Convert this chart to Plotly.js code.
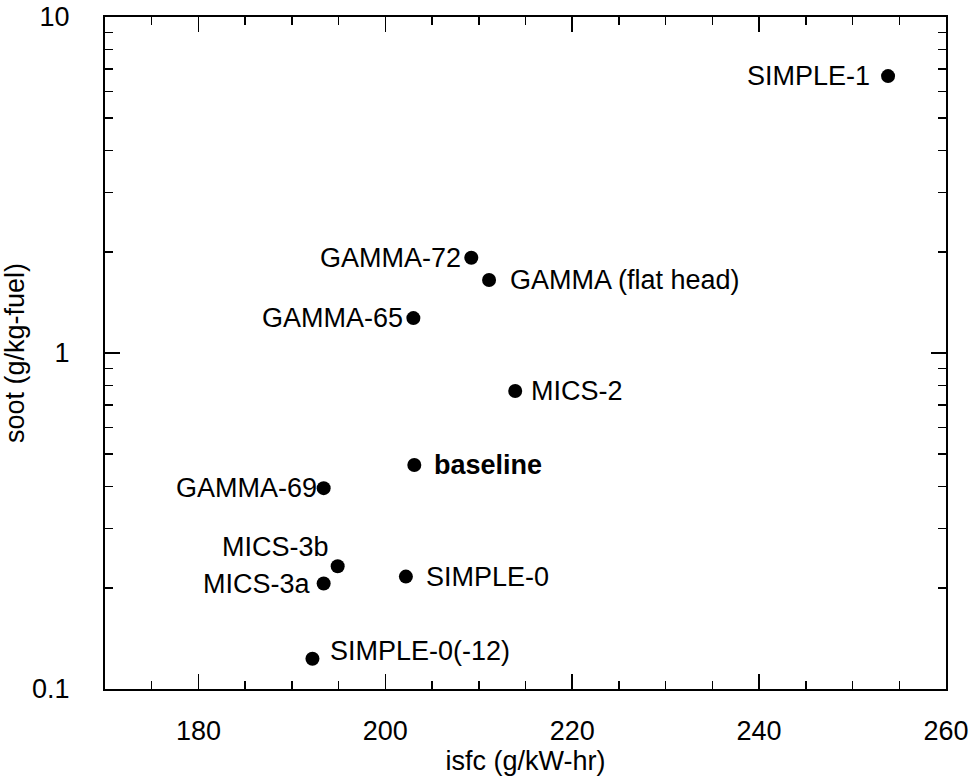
<!DOCTYPE html>
<html>
<head>
<meta charset="utf-8">
<script src="https://cdn.plot.ly/plotly-3.0.1.min.js"></script>
<style>html,body{margin:0;padding:0;background:#fff;}#chart{width:972px;height:779px;}</style>
</head>
<body>
<div id="chart"></div>
<script>
const names = ["SIMPLE-1","GAMMA-72","GAMMA (flat head)","GAMMA-65","MICS-2","baseline","GAMMA-69","MICS-3b","MICS-3a","SIMPLE-0","SIMPLE-0(-12)"];
const isfc = [253.8, 209.2, 211.1, 203.0, 213.9, 203.1, 193.4, 194.9, 193.4, 202.2, 192.2];
const soot = [6.67, 1.92, 1.65, 1.27, 0.771, 0.464, 0.396, 0.232, 0.206, 0.216, 0.123];
const yTickVals = [0.1, 1, 10];
const yTickText = ["0.1", "1", "10"];
const yMinorVals = [0.2,0.3,0.4,0.5,0.6,0.7,0.8,0.9,2,3,4,5,6,7,8,9];

// label placement: [xanchor, xshift, yshift, bold]
const labelPos = {
  "SIMPLE-1": ["right", -16, 0, false],
  "GAMMA-72": ["right", -8, 0, false],
  "GAMMA (flat head)": ["left", 19, 0, false],
  "GAMMA-65": ["right", -8, 0, false],
  "MICS-2": ["left", 14, 0, false],
  "baseline": ["left", 18, 0, true],
  "GAMMA-69": ["right", -5, 0, false],
  "MICS-3b": ["right", -7, 19, false],
  "MICS-3a": ["right", -11, 0, false],
  "SIMPLE-0": ["left", 18, 0, false],
  "SIMPLE-0(-12)": ["left", 16, 8, false]
};

const font = "Liberation Sans, Arial, Helvetica, sans-serif";

const annotations = names.map((n, i) => {
  const p = labelPos[n];
  return {
    x: isfc[i], y: Math.log10(soot[i]), xref: "x", yref: "y",
    text: p[3] ? "<b>" + n + "</b>" : n,
    showarrow: false, xanchor: p[0], yanchor: "middle",
    xshift: p[1], yshift: p[2],
    font: {family: font, size: 27, color: "#000"}
  };
});

const trace = {
  x: isfc, y: soot, mode: "markers", type: "scatter",
  marker: {size: 14, color: "#000"},
  hoverinfo: "skip"
};

const layout = {
  width: 972, height: 779,
  margin: {l: 105, r: 26, t: 17, b: 90},
  paper_bgcolor: "#fff", plot_bgcolor: "#fff",
  showlegend: false,
  font: {family: font, color: "#000"},
  xaxis: {
    range: [170, 260], showgrid: false, zeroline: false,
    showline: true, linecolor: "#000", linewidth: 2, mirror: "ticks",
    ticks: "inside", ticklen: 15, tickwidth: 1.5, tickcolor: "#000",
    tickvals: [180, 200, 220, 240, 260],
    tickfont: {size: 27, family: font},
    ticklabelstandoff: 17,
    minor: {dtick: 5, tick0: 170, ticks: "inside", ticklen: 8, tickwidth: 1.5, tickcolor: "#000", showgrid: false},
    title: {text: "isfc (g/kW-hr)", font: {size: 27, family: font}, standoff: 0}
  },
  yaxis: {
    type: "log", range: [-1, 1], showgrid: false, zeroline: false,
    showline: true, linecolor: "#000", linewidth: 2, mirror: "ticks",
    ticks: "inside", ticklen: 15, tickwidth: 1.5, tickcolor: "#000",
    tickmode: "array", tickvals: yTickVals, ticktext: yTickText,
    tickfont: {size: 27, family: font},
    ticklabelstandoff: 28,
    minor: {tickmode: "array", tickvals: yMinorVals, ticks: "inside", ticklen: 8, tickwidth: 1.5, tickcolor: "#000", showgrid: false},
    title: {text: "soot (g/kg-fuel)", font: {size: 27, family: font}, standoff: 0}
  },
  annotations: annotations
};

Plotly.newPlot("chart", [trace], layout, {staticPlot: true, displayModeBar: false});
</script>
</body>
</html>
